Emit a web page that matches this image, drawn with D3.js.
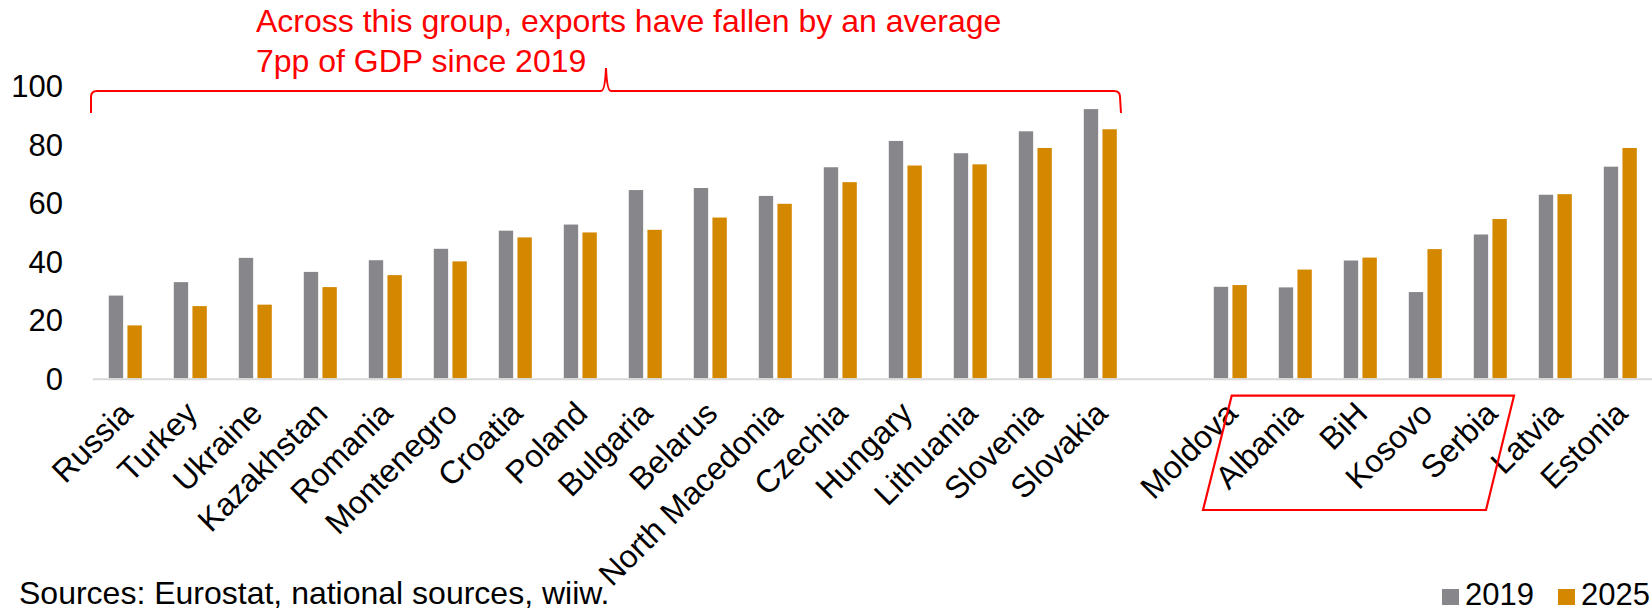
<!DOCTYPE html>
<html>
<head>
<meta charset="utf-8">
<script src="https://cdn.jsdelivr.net/npm/d3@7"></script>
<style>
  html, body { margin: 0; padding: 0; background: #fff; }
  svg { display: block; }
  text { font-family: "Liberation Sans", Arial, sans-serif; }
</style>
</head>
<body>
<svg id="chart" width="1652" height="612"></svg>
<script>
// ---- data ----
const categories = ["Russia","Turkey","Ukraine","Kazakhstan","Romania","Montenegro","Croatia","Poland","Bulgaria","Belarus","North Macedonia","Czechia","Hungary","Lithuania","Slovenia","Slovakia","","Moldova","Albania","BiH","Kosovo","Serbia","Latvia","Estonia"];
const values2019 = [28.3,32.9,41.2,36.4,40.4,44.3,50.5,52.6,64.4,65.1,62.4,72.2,81.2,77.0,84.5,92.1,null,31.3,31.1,40.3,29.5,49.2,62.8,72.4];
const values2025 = [18.1,24.7,25.2,31.2,35.3,40.0,48.2,49.9,50.8,55.0,59.7,67.1,72.8,73.2,78.8,85.2,null,31.9,37.2,41.3,44.2,54.5,63.0,78.8];
const seriesNames = ["2019","2025"];
const yTicks = [0,20,40,60,80,100];
const annotationLines = ["Across this group, exports have fallen by an average","7pp of GDP since 2019"];
const sourceText = "Sources: Eurostat, national sources, wiiw.";

// ---- setup ----
const colors = {"2019":"#87868b","2025":"#d48800"};
const svg = d3.select("#chart");
const slots = categories.map((c,i)=> i + "|" + c);

const x = d3.scaleBand().domain(slots).range([92.8, 1652.8]).paddingInner(0.492).paddingOuter(0.246);
const xs = d3.scaleBand().domain(seriesNames).range([0, x.bandwidth()]).paddingInner(0.23);
const y = d3.scaleLinear().domain([0,100]).range([378.3, 86]);

// bars
const rows = categories.map((c,i)=>({slot:slots[i], cat:c, vals:{"2019":values2019[i],"2025":values2025[i]}}));
const g = svg.append("g");
g.selectAll("g.cat").data(rows.filter(r=>r.cat!=="")).join("g")
  .attr("class","cat")
  .attr("transform", d=>`translate(${x(d.slot)},0)`)
  .selectAll("rect").data(d=>seriesNames.map(s=>({s, v:d.vals[s]}))).join("rect")
  .attr("x", d=>xs(d.s))
  .attr("width", xs.bandwidth())
  .attr("y", d=>y(d.v))
  .attr("height", d=>y(0)-y(d.v))
  .attr("fill", d=>colors[d.s]);

// x axis line
svg.append("line").attr("x1", 92.8).attr("x2", 1652).attr("y1", y(0)+1).attr("y2", y(0)+1)
  .attr("stroke","#d9d9d9").attr("stroke-width",2);

// y axis labels
const yAxis = d3.axisLeft(y).tickValues(yTicks).tickSize(0).tickPadding(0);
const ya = svg.append("g").attr("transform","translate(63,0)").call(yAxis);
ya.select(".domain").remove();
ya.selectAll("text").attr("font-size",31).attr("fill","#000").attr("font-family","Liberation Sans, Arial, sans-serif").attr("dy","0.35em");

// x labels
const xAxis = d3.axisBottom(x).tickSize(0).tickFormat(d=>d.split("|")[1]);
const xa = svg.append("g").attr("transform",`translate(0,${y(0)})`).call(xAxis);
xa.select(".domain").remove();
xa.selectAll("text")
  .attr("font-size",32).attr("fill","#000").attr("font-family","Liberation Sans, Arial, sans-serif")
  .attr("text-anchor","end")
  .attr("dy",null).attr("y",null)
  .attr("transform","translate(9,37) rotate(-45)");

// annotation
const ann = svg.append("text").attr("x",256).attr("y",32).attr("fill","#ff0000").attr("font-size",32);
annotationLines.forEach((t,i)=> ann.append("tspan").attr("x",256).attr("y", 32 + i*39.5).text(t));

// top brace
const bx0 = 91, bx1 = 1120, by = 91, bm = 606;
const brace = `M${bx0},113 L${bx0},${by+6} Q${bx0},${by} ${bx0+6},${by} L${bm-5},${by} Q${bm-1},${by} ${bm},68 Q${bm+1},${by} ${bm+5},${by} L${bx1-6},${by} Q${bx1},${by} ${bx1},${by+6} L${bx1+1},113`;
svg.append("path").attr("d",brace).attr("fill","none").attr("stroke","#ff0000").attr("stroke-width",2);

// parallelogram highlight
const pg = [[1231.7,395.7],[1514,395.7],[1486,510],[1203,510]];
svg.append("path").attr("d", d3.line()(pg) + "Z").attr("fill","none").attr("stroke","#ff0000").attr("stroke-width",2.2);

// source
svg.append("text").attr("x",19).attr("y",604).attr("font-size",32).attr("fill","#000").text(sourceText);

// legend
const leg = svg.append("g");
const legX = [1442, 1558];
seriesNames.forEach((s,i)=>{
  leg.append("rect").attr("x",legX[i]).attr("y",589).attr("width",17).attr("height",16).attr("fill",colors[s]);
  leg.append("text").attr("x",legX[i]+23).attr("y",605).attr("font-size",31).attr("fill","#000").text(s);
});
</script>
</body>
</html>
